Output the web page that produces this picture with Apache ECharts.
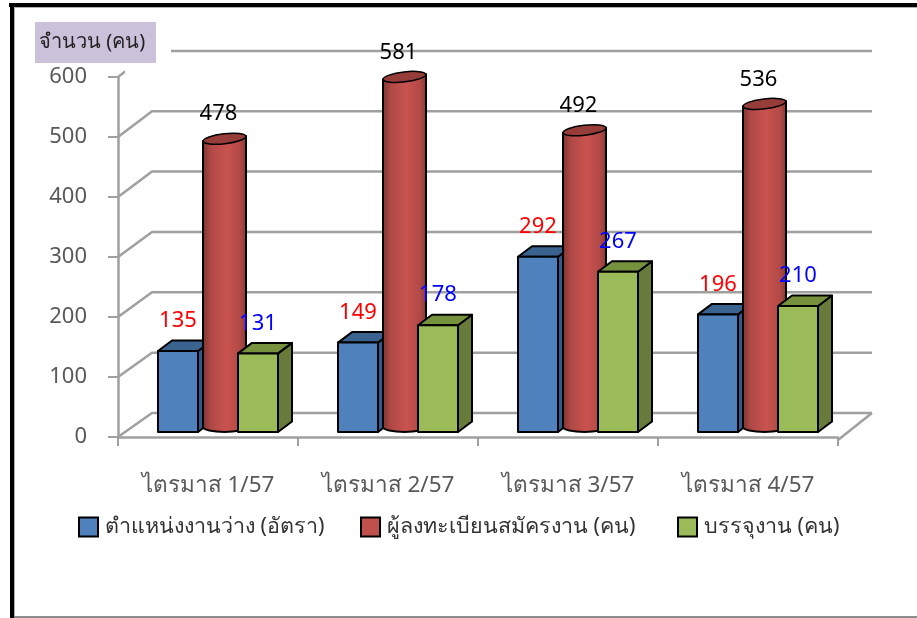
<!DOCTYPE html>
<html>
<head>
<meta charset="utf-8">
<style>
  html, body { margin: 0; padding: 0; background: #fff; }
  #chart { width: 917px; height: 618px; }
</style>
<script src="https://cdn.jsdelivr.net/npm/echarts@6/dist/echarts.min.js"></script>
</head>
<body>
<div id="chart"></div>
<script>
const categories = ['ไตรมาส 1/57', 'ไตรมาส 2/57', 'ไตรมาส 3/57', 'ไตรมาส 4/57'];
const vacancies = [135, 149, 292, 196];
const applicants = [478, 581, 492, 536];
const placed = [131, 178, 267, 210];
const yTicks = [0, 100, 200, 300, 400, 500, 600];
const seriesNames = ['ตำแหน่งงานว่าง (อัตรา)', 'ผู้ลงทะเบียนสมัครงาน (คน)', 'บรรจุงาน (คน)'];
const yTitle = 'จำนวน (คน)';

const FONT = '"Noto Sans", "Open Sans", sans-serif';
const GRID_COLOR = '#a0a0a0';
const TEXT_COLOR = '#595959';

// oblique depth of the back wall
const WALL_DX = 34;
const WALL_DY = -24;

const chart = echarts.init(document.getElementById('chart'));

function renderWall(params, api) {
  const cs = params.coordSys;
  const y = api.coord([0, api.value(0)])[1];
  const left = cs.x;
  const right = cs.x + cs.width;
  // back wall is a touch taller than the front axis
  const backY = y + WALL_DY - api.value(0) * 0.0035;
  const lineStyle = { stroke: GRID_COLOR, lineWidth: 2.5, fill: null };
  const children = [{
    type: 'polyline',
    shape: { points: [[left, y], [left + WALL_DX, backY], [right + WALL_DX, backY]] },
    style: lineStyle
  }];
  if (api.value(0) === 0) {
    children.push({
      type: 'line',
      shape: { x1: right + WALL_DX, y1: backY, x2: right, y2: y + 3 },
      style: lineStyle
    });
  }
  return { type: 'group', children };
}

// box bar in oblique projection, x offsets are from the category centre
function boxRenderer(xOffset, front, top, side, labelColor) {
  return function (params, api) {
    const pos = api.coord([api.value(0), api.value(1)]);
    const base = api.coord([api.value(0), 0]);
    const x0 = pos[0] + xOffset;
    const x1 = x0 + 40;
    const yt = pos[1] - 5;
    const yb = base[1] - 5;
    const dx = 14;
    const dy = -10.5;
    const edge = { stroke: '#000', lineWidth: 2, lineJoin: 'round' };
    return {
      type: 'group',
      children: [
        { type: 'polygon', shape: { points: [[x1, yt], [x1 + dx, yt + dy], [x1 + dx, yb + dy], [x1, yb]] }, style: Object.assign({ fill: side }, edge) },
        { type: 'polygon', shape: { points: [[x0, yt], [x0 + dx, yt + dy], [x1 + dx, yt + dy], [x1, yt]] }, style: Object.assign({ fill: top }, edge) },
        { type: 'rect', shape: { x: x0, y: yt, width: 40, height: yb - yt }, style: Object.assign({ fill: front }, edge) },
        { type: 'text', z2: 5, style: { text: String(api.value(1)), x: (x0 + x1) / 2, y: yt - 30, fill: labelColor, font: '22px ' + FONT, align: 'center', verticalAlign: 'middle' } }
      ]
    };
  };
}

function renderCylinder(params, api) {
  const pos = api.coord([api.value(0), api.value(1)]);
  const base = api.coord([api.value(0), 0]);
  const cx = pos[0] + 16.5;
  const cy = pos[1] - 11.5;
  const by = base[1] - 10;
  const rx = 21.5;
  const ry = 5;
  const tilt = 2.5;
  const body = 'M' + (cx - rx) + ' ' + (cy + tilt) +
    ' L' + (cx - rx) + ' ' + by +
    ' A' + rx + ' ' + ry + ' 0 0 0 ' + (cx + rx) + ' ' + by +
    ' L' + (cx + rx) + ' ' + (cy - tilt) + ' Z';
  return {
    type: 'group',
    children: [
      {
        type: 'path',
        shape: { pathData: body, layout: 'none' },
        style: {
          stroke: '#000',
          lineWidth: 2,
          fill: {
            type: 'linear', x: 0, y: 0, x2: 1, y2: 0,
            colorStops: [
              { offset: 0, color: '#7c3330' },
              { offset: 0.2, color: '#b04946' },
              { offset: 0.55, color: '#c9534f' },
              { offset: 0.85, color: '#b04946' },
              { offset: 1, color: '#843734' }
            ]
          }
        }
      },
      {
        type: 'ellipse',
        x: cx,
        y: cy,
        rotation: 0.115,
        shape: { cx: 0, cy: 0, rx: rx, ry: ry },
        style: { fill: '#963d3a', stroke: '#000', lineWidth: 1.5 }
      },
      { type: 'text', z2: 5, style: { text: String(api.value(1)), x: cx - 6, y: pos[1] - 36, fill: '#000', font: '22px ' + FONT, align: 'center', verticalAlign: 'middle' } }
    ]
  };
}

function legendAt(name, left) {
  return {
    data: [name],
    left: left,
    top: 516,
    padding: 0,
    itemWidth: 19,
    itemHeight: 19,
    icon: 'rect',
    selectedMode: false,
    textStyle: { color: '#333', fontSize: 21.5, fontFamily: FONT, padding: [0, 0, 0, 2] }
  };
}

const option = {
  animation: false,
  backgroundColor: '#fff',
  grid: { left: 118, top: 77, width: 720, height: 360 },
  xAxis: {
    type: 'category',
    data: categories,
    offset: 3,
    axisLine: { lineStyle: { color: GRID_COLOR, width: 2.5 } },
    axisTick: { show: true, length: 9, lineStyle: { color: GRID_COLOR, width: 2 } },
    axisLabel: { color: TEXT_COLOR, fontSize: 22.5, fontFamily: FONT, margin: 34 }
  },
  yAxis: {
    type: 'value',
    min: 0,
    max: 600,
    interval: 100,
    axisLine: { show: true, lineStyle: { color: GRID_COLOR, width: 2.5 } },
    axisTick: { show: true, length: 10, lineStyle: { color: GRID_COLOR, width: 2 } },
    axisLabel: { color: TEXT_COLOR, fontSize: 22, fontFamily: FONT, margin: 31, padding: [12, 0, 0, 0] },
    splitLine: { show: false }
  },
  legend: [
    legendAt(seriesNames[0], 78),
    legendAt(seriesNames[1], 360),
    legendAt(seriesNames[2], 677)
  ],
  series: [
    {
      name: 'wall',
      type: 'custom',
      silent: true,
      z: 1,
      renderItem: renderWall,
      encode: { y: 0 },
      data: yTicks.map(v => [v])
    },
    {
      name: seriesNames[0],
      type: 'custom',
      silent: true,
      z: 2,
      itemStyle: { color: '#4f81bd', borderColor: '#000', borderWidth: 2.5 },
      renderItem: boxRenderer(-50, '#4f81bd', '#3b6390', '#335a8a', '#ff0000'),
      encode: { x: 0, y: 1 },
      data: vacancies.map((v, i) => [i, v])
    },
    {
      name: seriesNames[1],
      type: 'custom',
      silent: true,
      z: 3,
      itemStyle: { color: '#c0504d', borderColor: '#000', borderWidth: 2.5 },
      renderItem: renderCylinder,
      encode: { x: 0, y: 1 },
      data: applicants.map((v, i) => [i, v])
    },
    {
      name: seriesNames[2],
      type: 'custom',
      silent: true,
      z: 4,
      itemStyle: { color: '#9bbb59', borderColor: '#000', borderWidth: 2.5 },
      renderItem: boxRenderer(30, '#9bbb59', '#76923c', '#687b3b', '#0000ff'),
      encode: { x: 0, y: 1 },
      data: placed.map((v, i) => [i, v])
    }
  ],
  graphic: [
    // frame of the pasted picture
    { type: 'rect', z: 20, shape: { x: 9, y: 3, width: 908, height: 4 }, style: { fill: '#000' } },
    { type: 'rect', z: 20, shape: { x: 10, y: 3, width: 4, height: 615 }, style: { fill: '#000' } },
    { type: 'rect', z: 20, shape: { x: 14, y: 7, width: 903, height: 1 }, style: { fill: '#b0b0b0' } },
    { type: 'rect', z: 20, shape: { x: 14, y: 7, width: 1, height: 609 }, style: { fill: '#b0b0b0' } },
    { type: 'rect', z: 20, shape: { x: 14, y: 616, width: 903, height: 2 }, style: { fill: '#8c8c8c' } },
    // axis title sits on a white patch that hides the top of the wall
    { type: 'rect', z: 20, shape: { x: 125, y: 22, width: 46, height: 56 }, style: { fill: '#fff' } },
    { type: 'rect', z: 21, shape: { x: 35, y: 22, width: 121, height: 41 }, style: { fill: '#ccc1da' } },
    { type: 'text', z: 22, style: { text: yTitle, x: 39, y: 42, fill: '#222', font: '20px ' + FONT, verticalAlign: 'middle' } }
  ]
};

chart.setOption(option);
</script>
</body>
</html>
